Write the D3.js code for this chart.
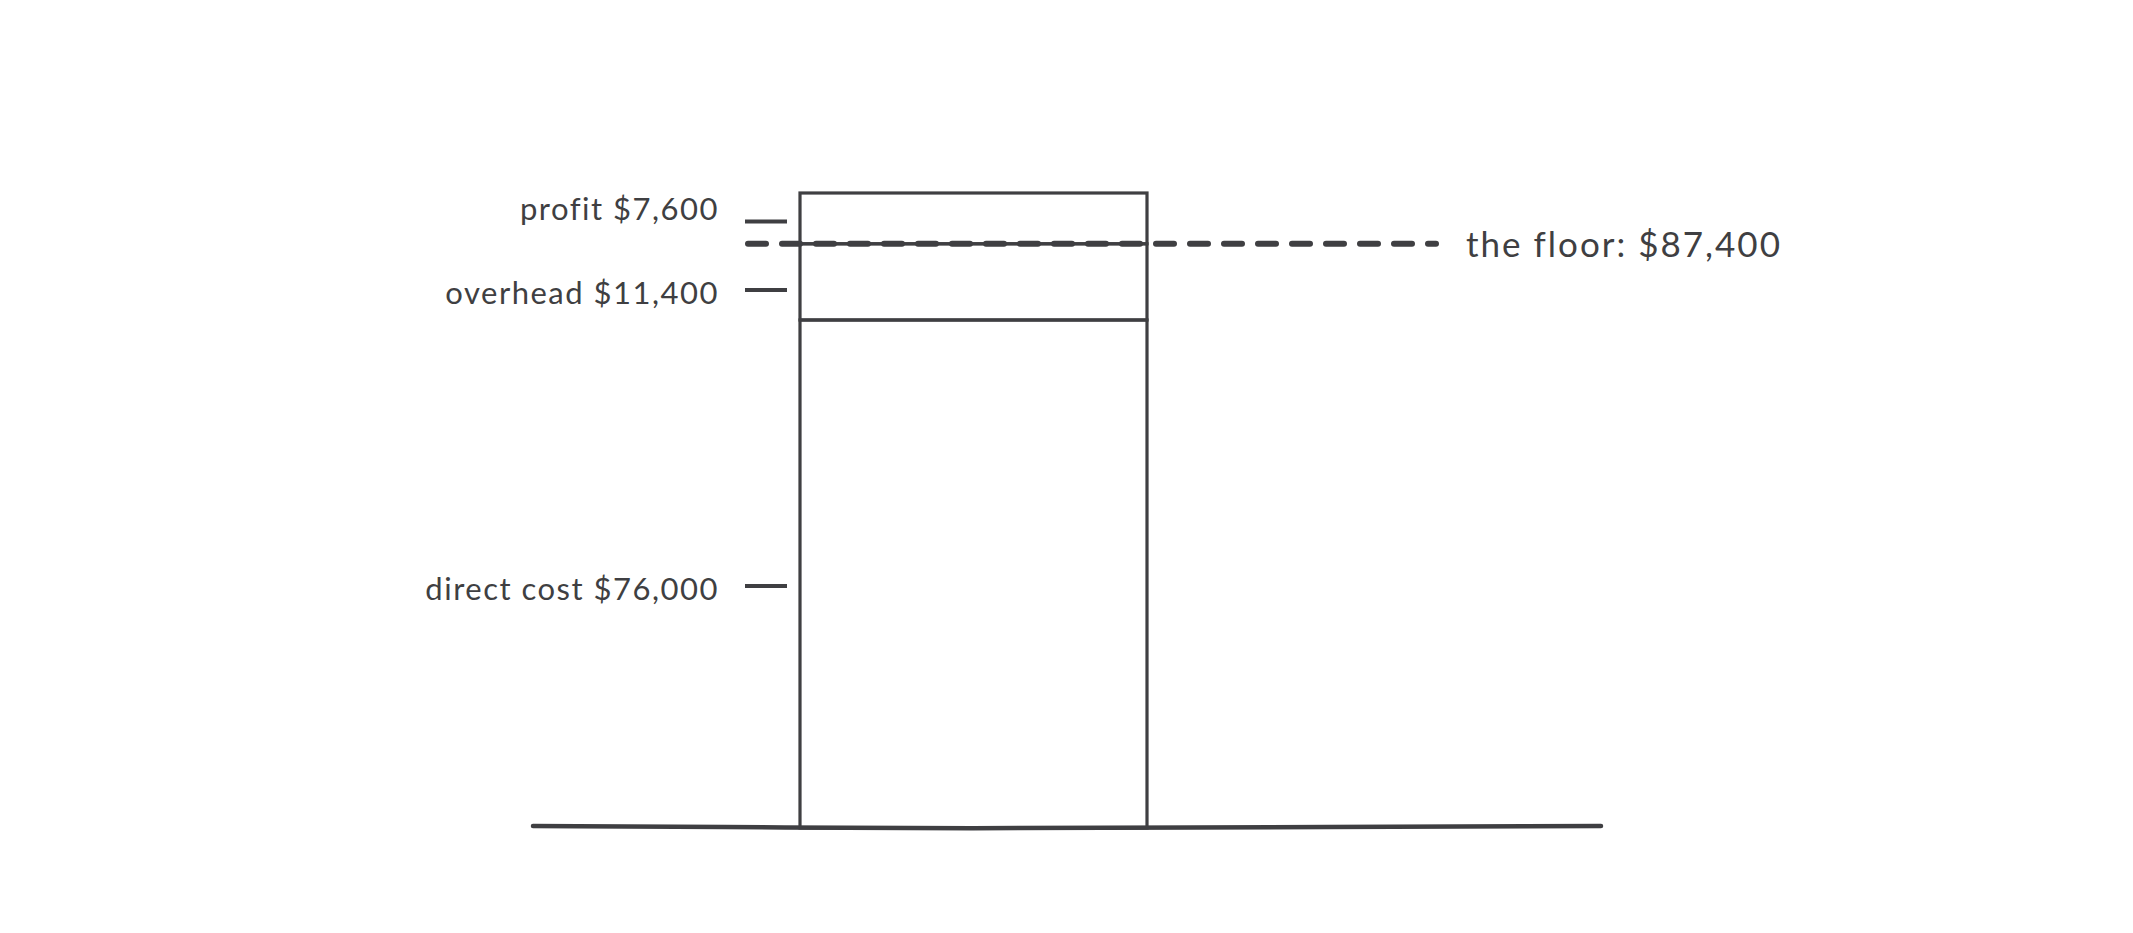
<!DOCTYPE html>
<html><head><meta charset="utf-8">
<script src="https://cdn.jsdelivr.net/npm/d3@7"></script>
<style>html,body{margin:0;padding:0;background:#fff;}</style>
</head><body>
<script>
const segments = ["direct cost", "overhead", "profit"];
const segmentValues = [76000, 11400, 7600];
const floorValue = 87400;
const floorLabel = "the floor: $87,400";

const W = 2133, H = 933;
const ink = "#3f3f42";
const font = "Lato, 'Noto Sans', sans-serif";
const svg = d3.select("body").append("svg").attr("width", W).attr("height", H);

const total = d3.sum(segmentValues);
const y = d3.scaleLinear().domain([0, total]).range([828, 193]);
const barX = d3.scaleLinear().domain([0, 1]).range([800, 1147]);

let acc = 0;
const stack = segmentValues.map((v, i) => { const s = {name: segments[i], v, y0: acc, y1: acc + v}; acc += v; return s; });
const fmt = d3.format("$,");

// segments
svg.selectAll("rect.seg").data(stack).join("rect")
  .attr("x", barX(0)).attr("width", barX(1) - barX(0))
  .attr("y", d => y(d.y1)).attr("height", d => y(d.y0) - y(d.y1))
  .attr("fill", "none").attr("stroke", ink).attr("stroke-width", 3.2);

// baseline axis
svg.append("path")
  .attr("d", d3.line().curve(d3.curveBasis)([[533, 826], [800, 827.5], [973, 828.5], [1147, 827.5], [1601, 826]]))
  .attr("fill", "none").attr("stroke", ink).attr("stroke-width", 4.5).attr("stroke-linecap", "round");

// ticks and labels
const tickOffs = [12, 8, 3];
const textOffs = [18, 14, -6];
stack.forEach((d, i) => {
  const my = y((d.y0 + d.y1) / 2);
  const ty = my + tickOffs[i];
  svg.append("line").attr("x1", 745).attr("x2", 787).attr("y1", ty).attr("y2", ty)
    .attr("stroke", ink).attr("stroke-width", 4);
  svg.append("text").attr("x", 719).attr("y", my + textOffs[i]).attr("text-anchor", "end")
    .attr("dominant-baseline", "middle")
    .attr("font-family", font).attr("font-size", 31).attr("letter-spacing", 1.5).attr("fill", ink)
    .text(d.name + " " + fmt(d.v));
});

// floor line
svg.append("line").attr("x1", 748).attr("x2", 1436).attr("y1", y(floorValue)).attr("y2", y(floorValue))
  .attr("stroke", ink).attr("stroke-width", 6).attr("stroke-linecap", "round")
  .attr("stroke-dasharray", "18,16");
svg.append("text").attr("x", 1466).attr("y", y(floorValue) + 4).attr("dominant-baseline", "middle")
  .attr("font-family", font).attr("font-size", 35).attr("letter-spacing", 2).attr("fill", ink).text(floorLabel);
</script>
</body></html>
